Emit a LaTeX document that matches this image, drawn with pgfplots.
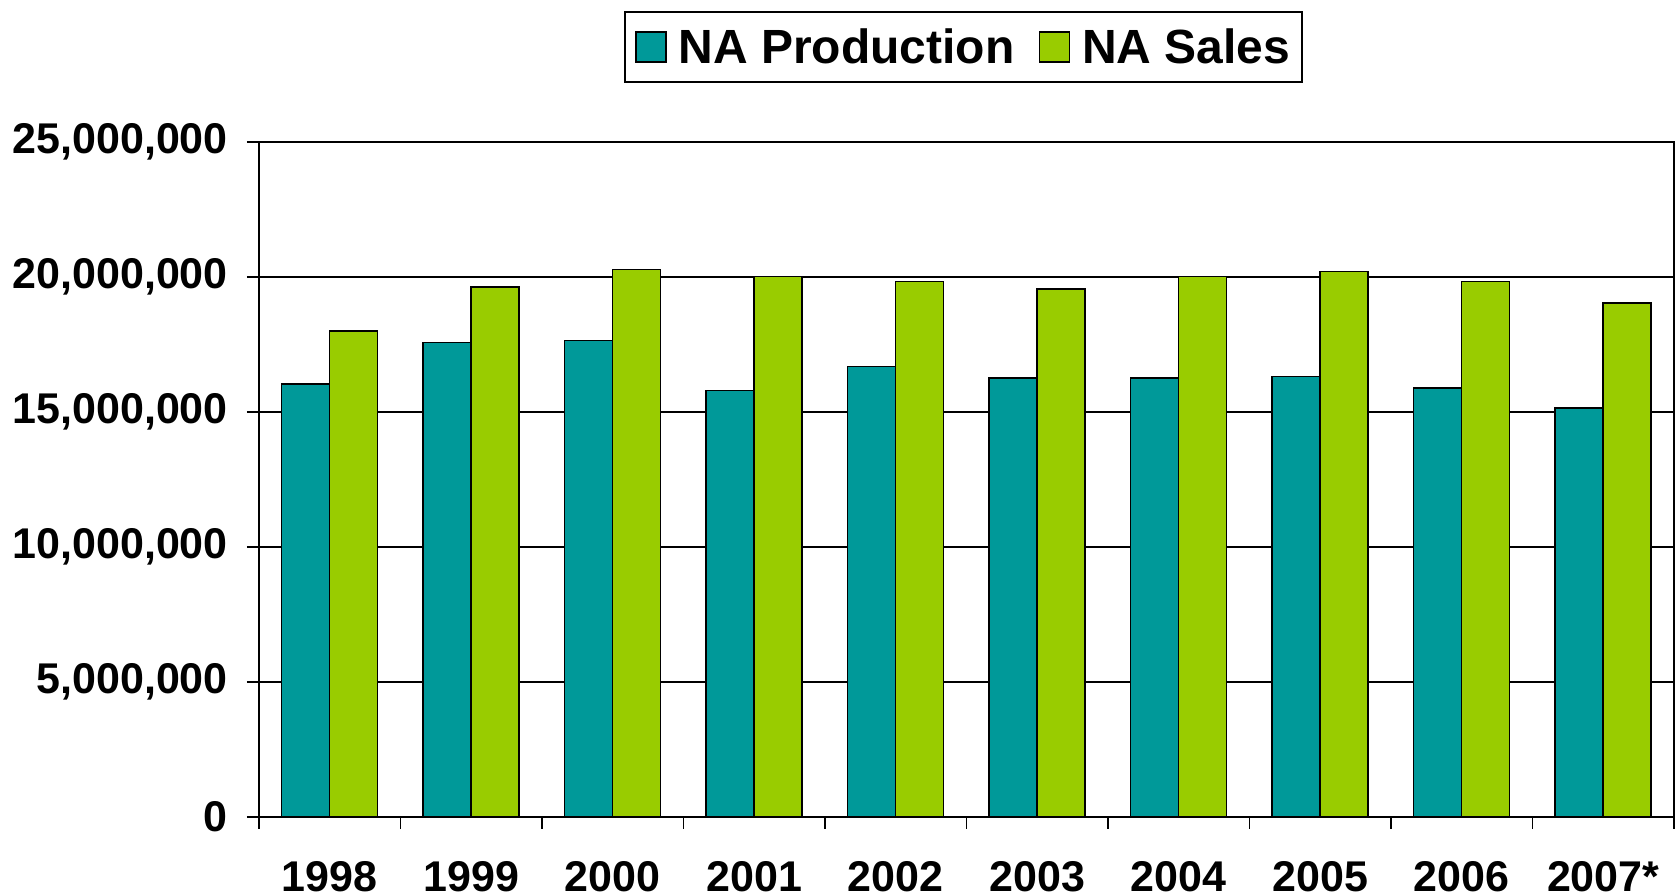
\documentclass[border=0pt]{standalone}
\usepackage{pgfplots}
\pgfplotsset{compat=1.18}
\usepackage{fontspec}
\setmainfont{Liberation Sans}
\definecolor{prodteal}{RGB}{0,153,153}
\definecolor{salesgreen}{RGB}{153,204,0}

\begin{document}
\begin{tikzpicture}
  \begin{axis}[
      at={(0pt,0pt)}, anchor=south west,
      scale only axis,
      width=1415pt, height=675pt,
      ybar=0pt, bar width=48pt,
      xmin=-0.5, xmax=9.5,
      ymin=0, ymax=25000000,
      xtick={0,...,9},
      xticklabels={1998,1999,2000,2001,2002,2003,2004,2005,2006,2007*},
      minor xtick={-0.5,0.5,...,9.5},
      ytick={0,5000000,10000000,15000000,20000000,25000000},
      tick pos=left,
      tick align=outside,
      major tick length=12pt, minor tick length=12pt,
      major x tick style={draw=none},
      tick style={black, line width=1.5pt},
      ymajorgrids,
      grid style={black, line width=1.5pt},
      axis line style={black, line width=1.5pt},
      scaled y ticks=false,
      /pgf/number format/fixed,
      /pgf/number format/1000 sep={,},
      /pgf/number format/assume math mode=true,
      ticklabel style={font=\fontsize{43}{50}\selectfont\bfseries, inner sep=0pt},
      xticklabel style={anchor=north, yshift=-32pt},
      yticklabel style={anchor=east, xshift=-19pt},
      legend style={at={(0.498,1.0875)}, anchor=south, draw=black, line width=1.5pt,
        font=\fontsize{48}{55}\selectfont\bfseries, legend columns=2,
        /tikz/every even column/.append style={column sep=22pt},
        inner xsep=10pt, inner ysep=15pt},
      legend image code/.code={\draw[#1, line width=1.5pt] (0pt,-15pt) rectangle (30pt,15pt); \path (40pt,0pt);},
    ]
    \addplot[fill=prodteal, draw=black, line width=1.5pt] coordinates {
      (0,16030000) (1,17570000) (2,17640000) (3,15800000) (4,16680000)
      (5,16250000) (6,16250000) (7,16320000) (8,15880000) (9,15150000)
    };
    \addplot[fill=salesgreen, draw=black, line width=1.5pt] coordinates {
      (0,18000000) (1,19630000) (2,20280000) (3,20010000) (4,19840000)
      (5,19560000) (6,20010000) (7,20210000) (8,19840000) (9,19030000)
    };
    \legend{NA Production,NA Sales}
  \end{axis}
  \pgfresetboundingbox
  \path (-259pt,-76pt) rectangle (1416pt,817pt);
\end{tikzpicture}
\end{document}
